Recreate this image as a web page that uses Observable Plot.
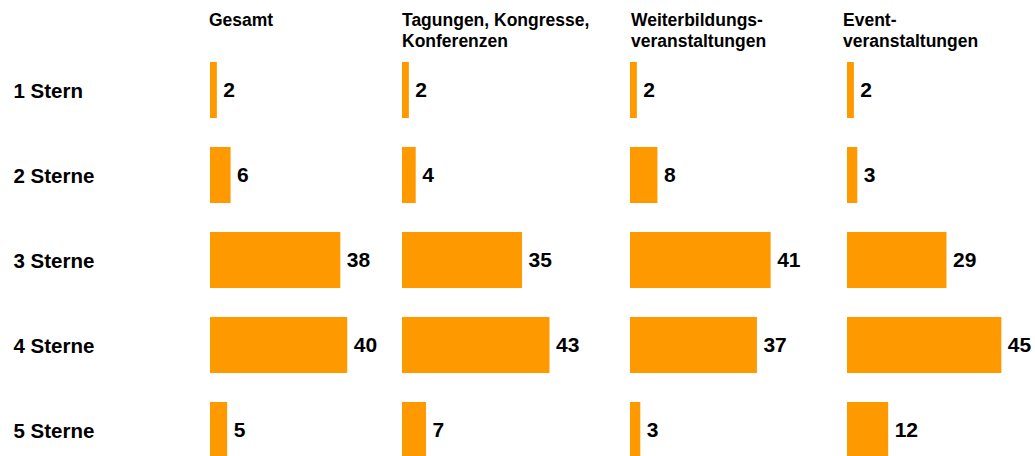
<!DOCTYPE html>
<html><head><meta charset="utf-8">
<script src="https://cdn.jsdelivr.net/npm/d3@7"></script>
<script src="https://cdn.jsdelivr.net/npm/@observablehq/plot@0.6"></script>
<style>
body{margin:0;background:#fff;}
#chart{position:relative;width:1035px;height:456px;overflow:hidden;font-family:"Liberation Sans",Arial,sans-serif;background:#fff;}
#chart svg{position:absolute;top:0;}
.hdr{position:absolute;top:10px;font-weight:bold;font-size:17.5px;line-height:21px;color:#000;white-space:pre-line;}
</style></head><body><div id="chart"></div>
<script>
const rows = ["1 Stern", "2 Sterne", "3 Sterne", "4 Sterne", "5 Sterne"];
const panelTitles = ["Gesamt", "Tagungen, Kongresse,\nKonferenzen", "Weiterbildungs-\nveranstaltungen", "Event-\nveranstaltungen"];
const gesamt = [2, 6, 38, 40, 5];
const tagungen = [2, 4, 35, 43, 7];
const weiterbildung = [2, 8, 41, 37, 3];
const event = [2, 3, 29, 45, 12];

const series = [gesamt, tagungen, weiterbildung, event];
const panelLeft = [210, 402, 630, 847];
const titleLeft = [209, 402, 631, 843];
const panelWidth = [192, 228, 217, 188];

const chart = document.getElementById("chart");
const yScale = {domain: rows, range: [46, 473.5], paddingInner: 0.34, paddingOuter: 0.17, axis: null};
const font = {fontFamily: "Liberation Sans, Arial, sans-serif", background: "transparent", overflow: "visible"};

// row labels
const labels = Plot.plot({
  width: 210, height: 456, margin: 0,
  y: yScale,
  style: font,
  marks: [
    Plot.text(rows, {y: d => d, text: d => d, frameAnchor: "left", dx: 13, textAnchor: "start",
      fontSize: 20.5, fontWeight: "bold", fill: "#000", dy: 1})
  ]
});
labels.style.left = "0px";
chart.appendChild(labels);

series.forEach((vals, i) => {
  const data = rows.map((r, j) => ({row: r, value: vals[j]}));
  const p = Plot.plot({
    width: panelWidth[i], height: 456, margin: 0,
    x: {domain: [0, 50], range: [0, 171.5], axis: null},
    y: yScale,
    style: font,
    marks: [
      Plot.barX(data, {x: "value", y: "row", fill: "#ff9900"}),
      Plot.text(data, {x: "value", y: "row", text: d => String(d.value), textAnchor: "start", dx: 6,
        fontSize: 21, fontWeight: "bold", fill: "#000"})
    ]
  });
  p.style.left = panelLeft[i] + "px";
  chart.appendChild(p);
  const h = document.createElement("div");
  h.className = "hdr";
  h.style.left = titleLeft[i] + "px";
  h.textContent = panelTitles[i];
  chart.appendChild(h);
});
</script></body></html>
